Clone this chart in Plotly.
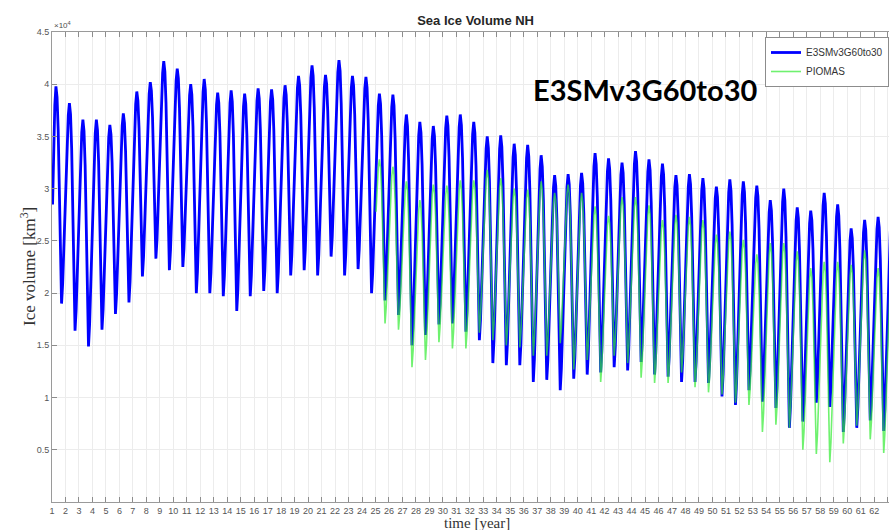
import plotly.graph_objects as go

# ---------------- data (values in units of 10^4 km^3) ----------------
blue_years = list(range(1, 64))
blue_max = [3.98, 3.82, 3.66, 3.66, 3.61, 3.72, 3.93, 4.02, 4.22, 4.15,
            4.00, 4.05, 3.92, 3.94, 3.91, 3.96, 3.95, 3.99, 4.08, 4.18,
            4.09, 4.23, 4.08, 4.07, 3.91, 3.90, 3.71, 3.64, 3.60, 3.70,
            3.71, 3.64, 3.50, 3.51, 3.43, 3.42, 3.32, 3.13, 3.14, 3.15,
            3.34, 3.29, 3.25, 3.36, 3.28, 3.24, 3.13, 3.14, 3.10, 3.02,
            3.09, 3.07, 3.03, 2.89, 3.00, 2.82, 2.79, 2.96, 2.85, 2.62,
            2.70, 2.73, 2.75]
blue_min = [1.90, 1.64, 1.49, 1.65, 1.80, 1.91, 2.16, 2.33, 2.22, 2.25,
            2.00, 2.00, 1.97, 1.83, 1.97, 2.02, 2.00, 2.17, 2.22, 2.17,
            2.35, 2.17, 2.23, 2.00, 1.93, 1.79, 1.50, 1.60, 1.70, 1.71,
            1.63, 1.55, 1.33, 1.31, 1.31, 1.15, 1.17, 1.07, 1.18, 1.22,
            1.24, 1.29, 1.26, 1.34, 1.22, 1.20, 1.15, 1.15, 1.14, 1.01,
            0.93, 1.07, 0.96, 0.90, 0.71, 0.77, 0.95, 0.91, 0.67, 0.71,
            0.78, 0.68, 0.70]
blue_min_before = 1.00   # sets the first (January, year 1) value of ~2.85

green_years = list(range(25, 64))
green_max = [3.28, 3.21, 3.07, 2.89, 3.04, 3.03, 3.08, 3.08, 3.18, 3.10,
             3.00, 2.99, 3.07, 2.96, 3.04, 2.96, 2.83, 2.74, 2.92, 2.92,
             2.84, 2.70, 2.75, 2.73, 2.70, 2.56, 2.59, 2.51, 2.37, 2.48,
             2.48, 2.40, 2.24, 2.30, 2.30, 2.27, 2.41, 2.24, 2.30]
green_min = [1.71, 1.65, 1.29, 1.36, 1.53, 1.47, 1.47, 1.62, 1.55, 1.50,
             1.48, 1.40, 1.40, 1.52, 1.27, 1.36, 1.15, 1.40, 1.33, 1.19,
             1.14, 1.14, 1.24, 1.10, 1.05, 1.03, 0.95, 0.93, 0.67, 0.74,
             0.71, 0.50, 0.46, 0.38, 0.56, 0.73, 0.60, 0.47, 0.50]
green_min_before = 1.96  # sets the first (January, year 25) value of ~2.78

# monthly position within the annual cycle (0 = September minimum, 1 = April maximum)
season_shape = [0.62, 0.80, 0.94, 1.00, 0.95, 0.80, 0.55, 0.25, 0.00, 0.10, 0.28, 0.46]

y_tickvals = [0.5, 1, 1.5, 2, 2.5, 3, 3.5, 4, 4.5]
y_ticktext = ["0.5", "1", "1.5", "2", "2.5", "3", "3.5", "4", "4.5"]
x_ticks = list(range(1, 64))


def monthly(years, maxs, mins, min_before):
    t, v = [], []
    for i, yr in enumerate(years):
        prev_min = mins[i - 1] if i > 0 else min_before
        next_max = maxs[i + 1] if i + 1 < len(maxs) else maxs[i]
        for m, s in enumerate(season_shape):
            if m < 3:
                lo, hi = prev_min, maxs[i]
            elif m < 9:
                lo, hi = mins[i], maxs[i]
            else:
                lo, hi = mins[i], next_max
            t.append(yr + (m + 0.5) / 12)
            v.append((lo + s * (hi - lo)) * 1e4)
    return t, v


bt, bv = monthly(blue_years, blue_max, blue_min, blue_min_before)
gt, gv = monthly(green_years, green_max, green_min, green_min_before)

fig = go.Figure()
fig.add_trace(go.Scatter(x=bt, y=bv, mode="lines", name="E3SMv3G60to30",
                         line=dict(color="#0000ff", width=2.8)))
fig.add_trace(go.Scatter(x=gt, y=gv, mode="lines", name="PIOMAS",
                         line=dict(color="rgba(50,235,50,0.7)", width=1.6)))

axis_font = dict(family="Liberation Sans, Arial", size=9, color="#555555")

fig.update_layout(
    width=889, height=530,
    margin=dict(l=52, r=0, t=32, b=28),
    paper_bgcolor="white", plot_bgcolor="white",
    title=dict(text="<b>Sea Ice Volume NH</b>", x=0.535, xanchor="center",
               y=1 - 20 / 530, yanchor="middle",
               font=dict(family="Liberation Sans, Arial", size=13, color="#262626")),
    showlegend=True,
    legend=dict(x=1, y=(502 - 37) / 470, xanchor="right", yanchor="top",
                bgcolor="white", bordercolor="#8c8c8c", borderwidth=1,
                font=dict(family="Liberation Sans, Arial", size=10, color="#333"),
                itemwidth=30, tracegroupgap=0),
    xaxis=dict(range=[1, 63.1], tickmode="array", tickvals=x_ticks,
               ticktext=[str(v) for v in x_ticks],
               ticks="inside", ticklen=5, tickcolor="#8c8c8c",
               showline=True, linecolor="#9a9a9a", linewidth=1, mirror="ticks",
               showgrid=True, gridcolor="#ececec", gridwidth=1, zeroline=False,
               tickfont=axis_font, tickangle=0),
    yaxis=dict(range=[0, 45000], tickmode="array",
               tickvals=[v * 1e4 for v in y_tickvals], ticktext=y_ticktext,
               ticks="inside", ticklen=5, tickcolor="#8c8c8c",
               showline=True, linecolor="#9a9a9a", linewidth=1,
               showgrid=True, gridcolor="#ececec", gridwidth=1, zeroline=False,
               tickfont=axis_font),
    annotations=[
        dict(text="\u00d710<sup>4</sup>", xref="paper", yref="paper", x=0, y=1,
             xanchor="left", yanchor="bottom", showarrow=False,
             font=dict(family="Liberation Sans, Arial", size=8, color="#4d4d4d")),
        dict(text="Ice volume [km<sup>3</sup>]", xref="paper", yref="paper",
             x=(28 - 52) / 837, y=0.5, xanchor="center", yanchor="middle",
             textangle=-90, showarrow=False,
             font=dict(family="Liberation Serif, Times New Roman", size=17, color="#333")),
        dict(text="time [year]", xref="paper", yref="paper",
             x=(477 - 52) / 837, y=(502 - 523) / 470, xanchor="center", yanchor="middle",
             showarrow=False,
             font=dict(family="Liberation Serif, Times New Roman", size=15, color="#333")),
        dict(text="<b>E3SMv3G60to30</b>", xref="paper", yref="paper",
             x=(531 - 52) / 837, y=(502 - 90) / 470, xanchor="left", yanchor="middle",
             showarrow=False, font=dict(family="Lato, Open Sans", size=29, color="black")),
    ],
)

fig.write_html("out.html")
